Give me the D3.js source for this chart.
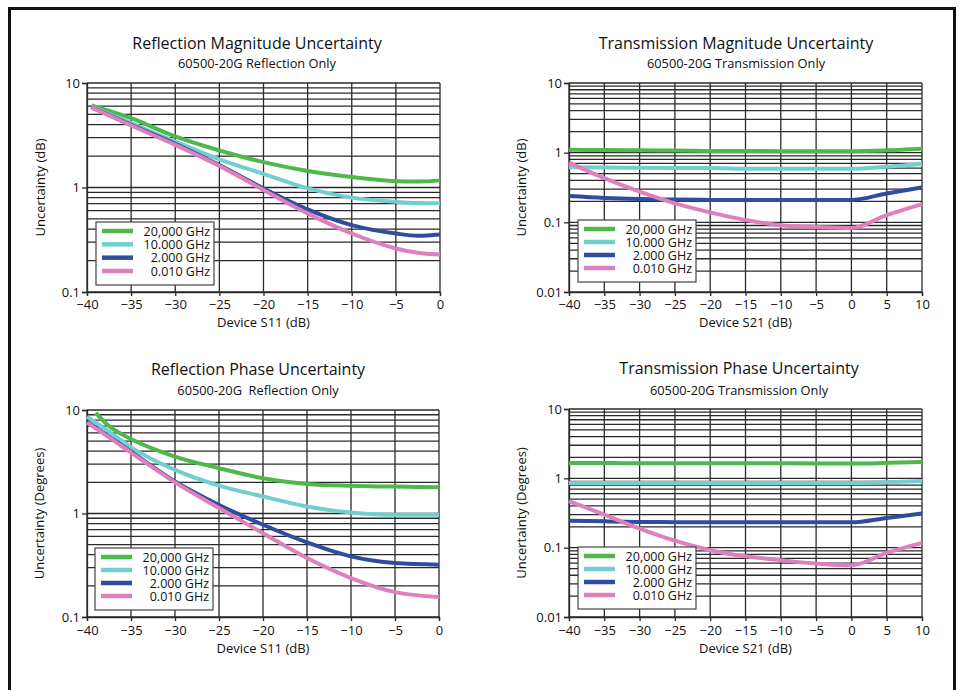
<!DOCTYPE html>
<meta charset="utf-8">
<style>
body{ margin:0; background:#fff; }
text{ font-family:"Open Sans", sans-serif; fill:#111; }
.title{ font-size:16px; text-anchor:middle; }
.sub{ font-size:12.8px; text-anchor:middle; white-space:pre; }
.tick text{ font-size:13px; }
.axlabel{ font-size:13px; text-anchor:middle; }
.grid line{ stroke:#2a2a2a; stroke-width:1.3px; }
.series{ fill:none; stroke-width:4px; }
.legend text{ font-size:12.5px; text-anchor:end; }
</style>
<body>
<script src="https://d3js.org/d3.v7.min.js"></script>
<script>

// ---------- data -------------
var freqs = ["20,000 GHz", "10.000 GHz", "2.000 GHz", "0.010 GHz"];
var colors = ["#4fb84b", "#72cfcf", "#2f4d9e", "#de80bd"];

var xTicksRefl = [-40, -35, -30, -25, -20, -15, -10, -5, 0];
var xTicksTrans = [-40, -35, -30, -25, -20, -15, -10, -5, 0, 5, 10];

// reflection magnitude (dB)
var reflMagX = [-39.5, -35, -30, -25, -20, -15, -10, -5, -2.5, 0];
var reflMag20 = [6.1, 4.6, 3.08, 2.26, 1.75, 1.44, 1.26, 1.15, 1.14, 1.17];
var reflMag10 = [5.97, 4.13, 2.75, 1.86, 1.35, 0.98, 0.80, 0.73, 0.71, 0.705];
var reflMag2 = [5.88, 3.98, 2.62, 1.64, 0.98, 0.617, 0.436, 0.363, 0.345, 0.355];
var reflMag001 = [5.84, 3.92, 2.56, 1.61, 0.946, 0.565, 0.363, 0.261, 0.237, 0.228];

// reflection phase (degrees)
var reflPhX = [-40, -37.5, -35, -30, -25, -20, -15, -10, -5, 0];
var reflPhX20 = [-39, -37.5, -35, -30, -25, -20, -15, -10, -5, 0];
var reflPh20 = [9.4, 7.0, 5.25, 3.55, 2.74, 2.19, 1.93, 1.85, 1.82, 1.79];
var reflPh10 = [8.62, 6.18, 4.36, 2.64, 1.86, 1.46, 1.17, 1.02, 0.97, 0.97];
var reflPh2 = [7.72, 5.53, 3.96, 2.04, 1.21, 0.778, 0.525, 0.385, 0.332, 0.32];
var reflPh001 = [7.55, 5.45, 3.88, 2.0, 1.13, 0.645, 0.371, 0.238, 0.174, 0.156];

// transmission magnitude (dB)
var transX = [-40, -35, -30, -25, -20, -15, -10, -5, 0, 5, 10];
var transMag20 = [1.10, 1.09, 1.08, 1.07, 1.06, 1.06, 1.05, 1.05, 1.05, 1.08, 1.14];
var transMag10 = [0.62, 0.61, 0.605, 0.60, 0.60, 0.59, 0.586, 0.586, 0.586, 0.63, 0.69];
var transMag2 = [0.238, 0.224, 0.216, 0.212, 0.21, 0.21, 0.21, 0.21, 0.21, 0.26, 0.318];
var transMag001 = [0.72, 0.43, 0.275, 0.187, 0.139, 0.108, 0.091, 0.086, 0.083, 0.127, 0.183];

// transmission phase (degrees)
var transPh20 = [1.66, 1.66, 1.65, 1.65, 1.65, 1.65, 1.65, 1.64, 1.63, 1.67, 1.72];
var transPh10 = [0.857, 0.857, 0.857, 0.857, 0.857, 0.857, 0.857, 0.857, 0.857, 0.88, 0.915];
var transPh2 = [0.245, 0.24, 0.235, 0.233, 0.232, 0.232, 0.232, 0.232, 0.232, 0.268, 0.31];
var transPh001 = [0.47, 0.30, 0.188, 0.126, 0.092, 0.075, 0.066, 0.059, 0.0556, 0.084, 0.117];

var zip = function(xs, ys){ return xs.map(function(x, i){ return [x, ys[i]]; }); };

// ---------- panel setup ------------
var panels = [
  {title:"Reflection Magnitude Uncertainty", sub:"60500-20G Reflection Only", cx:257, ty:49, sy:68,
   x0:87, x1:440, y0:83, y1:292, xd:[-40,0], xt:xTicksRefl, yd:[0.1,10],
   ylab:"Uncertainty (dB)", ylx:45, xlab:"Device S11 (dB)", tly:309, xly:327,
   leg:[96,222,214,285],
   series:[zip(reflMagX, reflMag20), zip(reflMagX, reflMag10), zip(reflMagX, reflMag2), zip(reflMagX, reflMag001)]},
  {title:"Transmission Magnitude Uncertainty", sub:"60500-20G Transmission Only", cx:736, ty:49, sy:68,
   x0:569, x1:922, y0:83, y1:292, xd:[-40,10], xt:xTicksTrans, yd:[0.01,10],
   ylab:"Uncertainty (dB)", ylx:526, xlab:"Device S21 (dB)", tly:309, xly:327,
   leg:[578,220,696,282],
   series:[zip(transX, transMag20), zip(transX, transMag10), zip(transX, transMag2), zip(transX, transMag001)]},
  {title:"Reflection Phase Uncertainty", sub:"60500-20G  Reflection Only", cx:258, ty:375, sy:395,
   x0:87, x1:439, y0:410, y1:617, xd:[-40,0], xt:xTicksRefl, yd:[0.1,10],
   ylab:"Uncertainty (Degrees)", ylx:44, xlab:"Device S11 (dB)", tly:635, xly:653,
   leg:[95,548,213,610],
   series:[zip(reflPhX20, reflPh20), zip(reflPhX, reflPh10), zip(reflPhX, reflPh2), zip(reflPhX, reflPh001)]},
  {title:"Transmission Phase Uncertainty", sub:"60500-20G Transmission Only", cx:739, ty:374, sy:395,
   x0:569, x1:922, y0:409, y1:617, xd:[-40,10], xt:xTicksTrans, yd:[0.01,10],
   ylab:"Uncertainty (Degrees)", ylx:526, xlab:"Device S21 (dB)", tly:635, xly:653,
   leg:[578,547,696,609],
   series:[zip(transX, transPh20), zip(transX, transPh10), zip(transX, transPh2), zip(transX, transPh001)]}
];

var svg = d3.select("body").append("svg").attr("width", 959).attr("height", 690);

// outer frame
svg.append("rect").attr("x", 9.5).attr("y", 8.5).attr("width", 945).attr("height", 700)
  .attr("fill", "none").attr("stroke", "#111").attr("stroke-width", 3);

var minus = function(v){ return String(v).replace("-", "\u2212"); };

panels.forEach(function(p){
  var g = svg.append("g");
  var x = d3.scaleLinear().domain(p.xd).range([p.x0, p.x1]);
  var y = d3.scaleLog().domain(p.yd).range([p.y1, p.y0]);

  g.append("text").attr("class", "title").attr("x", p.cx).attr("y", p.ty).text(p.title);
  g.append("text").attr("class", "sub").attr("x", p.cx).attr("y", p.sy).text(p.sub);

  // log grid lines 1..9 per decade
  var gridVals = [];
  for (var e = Math.log10(p.yd[0]); e < Math.log10(p.yd[1]); e++) {
    for (var m = 1; m < 10; m++) gridVals.push(m * Math.pow(10, e));
  }
  gridVals.push(p.yd[1]);
  var grid = g.append("g").attr("class", "grid");
  grid.selectAll(".h").data(gridVals).enter().append("line")
    .attr("x1", p.x0).attr("x2", p.x1)
    .attr("y1", function(d){ return y(d); }).attr("y2", function(d){ return y(d); });
  grid.selectAll(".v").data(p.xt).enter().append("line")
    .attr("x1", function(d){ return x(d); }).attr("x2", function(d){ return x(d); })
    .attr("y1", p.y0).attr("y2", p.y1);

  // axes
  var decades = gridVals.filter(function(d){ return Math.abs(Math.log10(d) - Math.round(Math.log10(d))) < 1e-9; });
  var yAxis = d3.axisLeft(y).tickValues(decades).tickSize(5).tickPadding(2)
    .tickFormat(function(d){ return d >= 1 ? d3.format("d")(d) : String(+d.toPrecision(1)); });
  g.append("g").attr("transform", "translate(" + p.x0 + ",0)").call(yAxis)
    .call(function(a){ a.select(".domain").attr("stroke", "#2a2a2a").attr("stroke-width", 1.3); })
    .call(function(a){ a.selectAll("line").attr("stroke", "#2a2a2a").attr("stroke-width", 1.3); });

  var xAxis = d3.axisBottom(x).tickValues(p.xt).tickSize(4).tickPadding(2).tickFormat(minus);
  var xa = g.append("g").attr("transform", "translate(0," + p.y1 + ")").call(xAxis);
  xa.select(".domain").attr("stroke", "#2a2a2a").attr("stroke-width", 1.3);
  xa.selectAll("line").attr("stroke", "#2a2a2a").attr("stroke-width", 1.3);
  xa.selectAll("text").attr("y", null).attr("dy", null)
    .attr("transform", "translate(0," + (p.tly - p.y1) + ")");

  g.append("text").attr("class", "axlabel").attr("x", (p.x0 + p.x1) / 2).attr("y", p.xly).text(p.xlab);
  g.append("text").attr("class", "axlabel")
    .attr("transform", "translate(" + p.ylx + "," + ((p.y0 + p.y1) / 2) + ") rotate(-90)")
    .text(p.ylab);

  // series
  var line = d3.line().x(function(d){ return x(d[0]); }).y(function(d){ return y(d[1]); })
    .curve(d3.curveMonotoneX);
  g.selectAll(".series").data(p.series).enter().append("path")
    .attr("class", "series")
    .attr("stroke", function(d, i){ return colors[i]; })
    .attr("d", line);

  // legend
  var L = p.leg;
  var lg = g.append("g").attr("class", "legend");
  lg.append("rect").attr("x", L[0]).attr("y", L[1]).attr("width", L[2] - L[0]).attr("height", L[3] - L[1])
    .attr("fill", "#fff").attr("stroke", "#444").attr("stroke-width", 1.2);
  var step = (L[3] - L[1] - 23) / 3;
  freqs.forEach(function(f, i){
    var yy = L[1] + 9 + i * step;
    lg.append("line").attr("x1", L[0] + 6).attr("x2", L[0] + 37).attr("y1", yy).attr("y2", yy)
      .attr("stroke", colors[i]).attr("stroke-width", 4.5);
    lg.append("text").attr("x", L[2] - 4).attr("y", yy + 4.5).text(f);
  });
});
</script>
</body>
</html>
